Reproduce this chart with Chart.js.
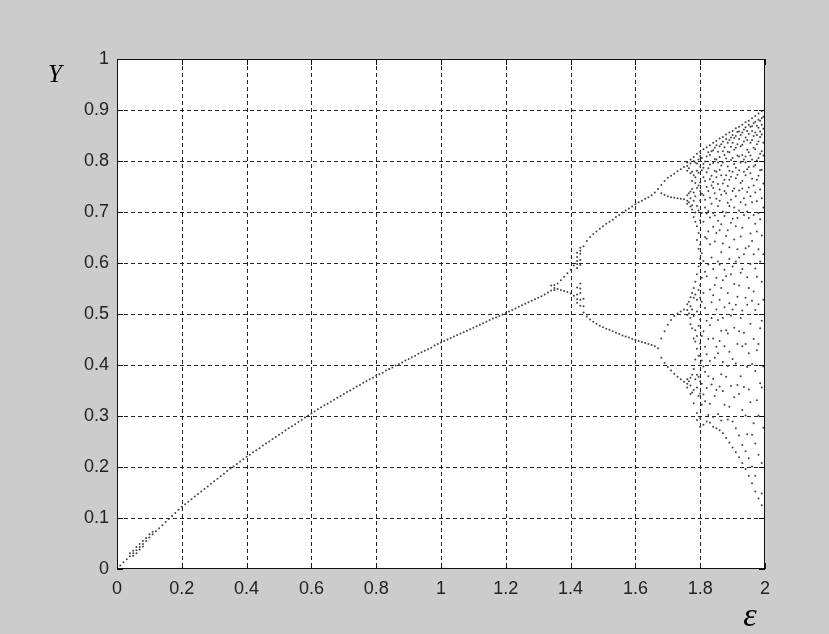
<!DOCTYPE html>
<html>
<head>
<meta charset="utf-8">
<script src="https://cdn.jsdelivr.net/npm/chart.js@4.4.0/dist/chart.umd.min.js"></script>
<style>
  html, body { margin: 0; padding: 0; background: #cccccc; }
</style>
</head>
<body>
<canvas id="chart" width="829" height="634"></canvas>
<script>
// ---- data ----
var xTicks = [0, 0.2, 0.4, 0.6, 0.8, 1, 1.2, 1.4, 1.6, 1.8, 2];
var yTicks = [0, 0.1, 0.2, 0.3, 0.4, 0.5, 0.6, 0.7, 0.8, 0.9, 1];

// single branch
var mainEps = [
  0.00, 0.01, 0.02, 0.03, 0.04, 0.05, 0.06, 0.07, 0.08, 0.09,
  0.10, 0.11, 0.12, 0.13, 0.14, 0.15, 0.16, 0.17, 0.18, 0.19,
  0.20, 0.21, 0.22, 0.23, 0.24, 0.25, 0.26, 0.27, 0.28, 0.29,
  0.30, 0.31, 0.32, 0.33, 0.34, 0.35, 0.36, 0.37, 0.38, 0.39,
  0.40, 0.41, 0.42, 0.43, 0.44, 0.45, 0.46, 0.47, 0.48, 0.49,
  0.50, 0.51, 0.52, 0.53, 0.54, 0.55, 0.56, 0.57, 0.58, 0.59,
  0.60, 0.61, 0.62, 0.63, 0.64, 0.65, 0.66, 0.67, 0.68, 0.69,
  0.70, 0.71, 0.72, 0.73, 0.74, 0.75, 0.76, 0.77, 0.78, 0.79,
  0.80, 0.81, 0.82, 0.83, 0.84, 0.85, 0.86, 0.87, 0.88, 0.89,
  0.90, 0.91, 0.92, 0.93, 0.94, 0.95, 0.96, 0.97, 0.98, 0.99,
  1.00, 1.01, 1.02, 1.03, 1.04, 1.05, 1.06, 1.07, 1.08, 1.09,
  1.10, 1.11, 1.12, 1.13, 1.14, 1.15, 1.16, 1.17, 1.18, 1.19,
  1.20, 1.21, 1.22, 1.23, 1.24, 1.25, 1.26, 1.27, 1.28, 1.29,
  1.30, 1.31, 1.32, 1.33, 1.34, 1.35
];
var mainY = [
  0.000, 0.007, 0.013, 0.019, 0.025, 0.031, 0.037, 0.043, 0.049, 0.055,
  0.062, 0.068, 0.074, 0.080, 0.086, 0.092, 0.098, 0.104, 0.110, 0.116,
  0.122, 0.127, 0.132, 0.137, 0.142, 0.147, 0.152, 0.157, 0.162, 0.167,
  0.172, 0.177, 0.182, 0.187, 0.192, 0.197, 0.201, 0.206, 0.211, 0.215,
  0.220, 0.224, 0.229, 0.233, 0.237, 0.242, 0.246, 0.250, 0.255, 0.259,
  0.263, 0.267, 0.272, 0.276, 0.280, 0.284, 0.288, 0.292, 0.297, 0.301,
  0.305, 0.309, 0.313, 0.317, 0.321, 0.324, 0.328, 0.332, 0.336, 0.339,
  0.343, 0.347, 0.350, 0.354, 0.358, 0.361, 0.365, 0.368, 0.372, 0.375,
  0.379, 0.382, 0.385, 0.389, 0.392, 0.395, 0.399, 0.402, 0.405, 0.409,
  0.412, 0.415, 0.418, 0.422, 0.425, 0.428, 0.431, 0.434, 0.438, 0.441,
  0.444, 0.447, 0.450, 0.453, 0.456, 0.459, 0.462, 0.464, 0.467, 0.470,
  0.473, 0.476, 0.479, 0.482, 0.485, 0.488, 0.491, 0.493, 0.496, 0.499,
  0.502, 0.505, 0.508, 0.511, 0.514, 0.517, 0.520, 0.523, 0.526, 0.529,
  0.532, 0.535, 0.538, 0.542, 0.546, 0.551
];

// transient marks near the origin and around the first split
var fuzzEps = [0.04, 0.05, 0.05, 0.06, 0.06, 0.07, 0.07, 0.08, 0.08, 0.09, 0.10, 0.11];
var fuzzY   = [0.031, 0.036, 0.026, 0.043, 0.031, 0.049, 0.038, 0.055, 0.044, 0.061, 0.068, 0.073];
var barEps = [1.34, 1.35, 1.35, 1.42, 1.42, 1.42, 1.42, 1.43, 1.43, 1.43, 1.43,
              1.42, 1.42, 1.42, 1.43, 1.43, 1.43, 1.43, 1.44, 1.44];
var barY   = [0.556, 0.557, 0.547, 0.590, 0.598, 0.612, 0.620, 0.596, 0.606, 0.624, 0.630,
              0.522, 0.538, 0.552, 0.528, 0.541, 0.550, 0.560, 0.515, 0.530];

// period 2
var p2Eps = [1.36, 1.37, 1.38, 1.39, 1.40, 1.41, 1.42, 1.43, 1.44, 1.45, 1.46, 1.47, 1.48, 1.49, 1.50, 1.51,
             1.52, 1.53, 1.54, 1.55, 1.56, 1.57, 1.58, 1.59, 1.60, 1.61, 1.62, 1.63, 1.64, 1.65, 1.66, 1.67];
var p2Up  = [0.560, 0.566, 0.573, 0.580, 0.587, 0.595, 0.604, 0.618, 0.633, 0.643, 0.651, 0.657, 0.662, 0.667, 0.672, 0.677,
             0.681, 0.685, 0.690, 0.694, 0.699, 0.703, 0.707, 0.711, 0.715, 0.719, 0.722, 0.726, 0.729, 0.733, 0.738, 0.745];
var p2Low = [0.549, 0.547, 0.545, 0.543, 0.540, 0.536, 0.529, 0.516, 0.503, 0.495, 0.489, 0.485, 0.481, 0.477, 0.474, 0.471,
             0.469, 0.466, 0.463, 0.461, 0.458, 0.456, 0.454, 0.451, 0.449, 0.447, 0.445, 0.443, 0.441, 0.439, 0.437, 0.433];

// period 4
var p4Eps = [1.68, 1.69, 1.70, 1.71, 1.72, 1.73, 1.74, 1.75];
var p4A = [0.753, 0.761, 0.767, 0.771, 0.775, 0.780, 0.784, 0.788];
var p4B = [0.737, 0.734, 0.731, 0.729, 0.728, 0.727, 0.726, 0.725];
var p4C = [0.452, 0.466, 0.479, 0.488, 0.496, 0.501, 0.505, 0.509];
var p4D = [0.414, 0.404, 0.396, 0.389, 0.383, 0.377, 0.372, 0.367];

// chaotic band, one list of Y per epsilon column
var chaosEps = [
  1.760, 1.765, 1.770, 1.775, 1.780, 1.785, 1.790, 1.795, 1.800, 1.805,
  1.810, 1.815, 1.820, 1.825, 1.830, 1.835, 1.840, 1.845, 1.850, 1.855,
  1.860, 1.865, 1.870, 1.875, 1.880, 1.885, 1.890, 1.895, 1.900, 1.905,
  1.910, 1.915, 1.920, 1.925, 1.930, 1.935, 1.940, 1.945, 1.950, 1.955,
  1.960, 1.965, 1.970, 1.975, 1.980, 1.985, 1.990, 1.995, 2.000
];
var chaosY = [
  [0.797, 0.790, 0.781, 0.733, 0.722, 0.716, 0.519, 0.508, 0.498, 0.372, 0.363, 0.356],
  [0.786, 0.737, 0.719, 0.524, 0.501, 0.368],
  [0.803, 0.795, 0.776, 0.740, 0.727, 0.711, 0.533, 0.515, 0.492, 0.480, 0.375, 0.360, 0.343],
  [0.779, 0.761, 0.745, 0.713, 0.705, 0.541, 0.509, 0.472, 0.381, 0.346],
  [0.808, 0.800, 0.772, 0.738, 0.722, 0.690, 0.551, 0.532, 0.496, 0.452, 0.392, 0.351, 0.325],
  [0.797, 0.768, 0.757, 0.731, 0.699, 0.681, 0.563, 0.538, 0.468, 0.446, 0.411, 0.372],
  [0.814, 0.795, 0.781, 0.747, 0.712, 0.672, 0.645, 0.578, 0.528, 0.505, 0.457, 0.432, 0.381, 0.356, 0.306, 0.292],
  [0.803, 0.777, 0.752, 0.703, 0.659, 0.628, 0.593, 0.547, 0.477, 0.418, 0.377, 0.339],
  [0.818, 0.810, 0.789, 0.758, 0.741, 0.723, 0.684, 0.636, 0.608, 0.556, 0.532, 0.489, 0.442, 0.418, 0.368, 0.344, 0.296, 0.279],
  [0.806, 0.782, 0.736, 0.698, 0.619, 0.571, 0.524, 0.457, 0.409, 0.363, 0.322],
  [0.823, 0.794, 0.787, 0.768, 0.733, 0.681, 0.604, 0.541, 0.466, 0.397, 0.342, 0.283],
  [0.799, 0.761, 0.724, 0.709, 0.651, 0.583, 0.512, 0.436, 0.387, 0.329],
  [0.827, 0.809, 0.778, 0.749, 0.697, 0.648, 0.574, 0.487, 0.421, 0.355, 0.289],
  [0.817, 0.786, 0.741, 0.702, 0.662, 0.597, 0.451, 0.378, 0.302],
  [0.831, 0.812, 0.793, 0.764, 0.728, 0.689, 0.637, 0.548, 0.478, 0.408, 0.324, 0.287],
  [0.819, 0.771, 0.752, 0.716, 0.611, 0.523, 0.492, 0.362],
  [0.836, 0.821, 0.796, 0.759, 0.747, 0.698, 0.671, 0.588, 0.537, 0.452, 0.373, 0.298, 0.279],
  [0.826, 0.804, 0.781, 0.737, 0.693, 0.642, 0.557, 0.414, 0.339],
  [0.839, 0.831, 0.803, 0.779, 0.768, 0.726, 0.659, 0.571, 0.509, 0.436, 0.351, 0.276],
  [0.818, 0.797, 0.755, 0.712, 0.683, 0.603, 0.488, 0.423, 0.304],
  [0.844, 0.829, 0.808, 0.783, 0.744, 0.722, 0.664, 0.597, 0.528, 0.447, 0.358, 0.272],
  [0.833, 0.791, 0.772, 0.734, 0.676, 0.621, 0.551, 0.467, 0.382, 0.291],
  [0.847, 0.838, 0.819, 0.797, 0.756, 0.701, 0.638, 0.566, 0.492, 0.406, 0.349, 0.266],
  [0.827, 0.812, 0.763, 0.741, 0.692, 0.587, 0.513, 0.437, 0.322],
  [0.852, 0.843, 0.805, 0.772, 0.737, 0.699, 0.653, 0.574, 0.468, 0.377, 0.257],
  [0.836, 0.818, 0.789, 0.751, 0.718, 0.664, 0.541, 0.462, 0.398, 0.293],
  [0.856, 0.841, 0.817, 0.781, 0.763, 0.712, 0.631, 0.608, 0.521, 0.426, 0.318, 0.248],
  [0.846, 0.828, 0.802, 0.769, 0.724, 0.679, 0.578, 0.497, 0.359],
  [0.859, 0.851, 0.836, 0.806, 0.779, 0.741, 0.687, 0.593, 0.509, 0.412, 0.289, 0.238],
  [0.845, 0.822, 0.794, 0.746, 0.709, 0.646, 0.559, 0.473, 0.337],
  [0.864, 0.849, 0.826, 0.787, 0.766, 0.731, 0.672, 0.603, 0.518, 0.403, 0.276, 0.229],
  [0.857, 0.833, 0.811, 0.773, 0.688, 0.627, 0.534, 0.441, 0.361],
  [0.867, 0.858, 0.843, 0.809, 0.782, 0.742, 0.703, 0.611, 0.556, 0.466, 0.343, 0.262, 0.219],
  [0.851, 0.829, 0.797, 0.757, 0.719, 0.652, 0.581, 0.492, 0.378],
  [0.871, 0.856, 0.832, 0.812, 0.761, 0.746, 0.669, 0.588, 0.507, 0.437, 0.312, 0.243, 0.208],
  [0.862, 0.838, 0.803, 0.779, 0.727, 0.694, 0.617, 0.463, 0.357],
  [0.876, 0.866, 0.846, 0.809, 0.797, 0.772, 0.714, 0.629, 0.532, 0.441, 0.301, 0.231, 0.196],
  [0.859, 0.841, 0.822, 0.784, 0.739, 0.701, 0.572, 0.518, 0.396, 0.264],
  [0.879, 0.871, 0.853, 0.817, 0.788, 0.748, 0.688, 0.633, 0.551, 0.423, 0.352, 0.217, 0.183],
  [0.867, 0.836, 0.811, 0.776, 0.731, 0.658, 0.598, 0.481, 0.327],
  [0.884, 0.868, 0.859, 0.841, 0.803, 0.765, 0.719, 0.643, 0.526, 0.402, 0.263, 0.201, 0.168],
  [0.874, 0.849, 0.826, 0.789, 0.752, 0.694, 0.617, 0.544, 0.451, 0.286],
  [0.888, 0.877, 0.856, 0.823, 0.792, 0.738, 0.677, 0.589, 0.508, 0.388, 0.246, 0.183, 0.152],
  [0.869, 0.851, 0.833, 0.801, 0.763, 0.721, 0.662, 0.573, 0.429, 0.331],
  [0.893, 0.881, 0.865, 0.838, 0.806, 0.771, 0.698, 0.627, 0.519, 0.441, 0.301, 0.224, 0.138],
  [0.879, 0.858, 0.847, 0.814, 0.782, 0.744, 0.686, 0.603, 0.472, 0.364],
  [0.898, 0.884, 0.871, 0.852, 0.819, 0.783, 0.727, 0.654, 0.563, 0.487, 0.356, 0.208, 0.148, 0.125],
  [0.887, 0.863, 0.836, 0.811, 0.756, 0.709, 0.617, 0.528, 0.397, 0.277],
  [0.903, 0.889, 0.867, 0.854, 0.831, 0.797, 0.735, 0.662, 0.596, 0.471, 0.332, 0.184, 0.118]
];

// ---- build points ----
var pts = [];
function addPts(xs, ys){
  for (var i = 0; i < xs.length; i++) pts.push({x: xs[i], y: ys[i]});
}
addPts(mainEps, mainY);
addPts(fuzzEps, fuzzY);
addPts(barEps, barY);
addPts(p2Eps, p2Up);
addPts(p2Eps, p2Low);
addPts(p4Eps, p4A);
addPts(p4Eps, p4B);
addPts(p4Eps, p4C);
addPts(p4Eps, p4D);
for (var c = 0; c < chaosEps.length; c++){
  for (var k = 0; k < chaosY[c].length; k++) pts.push({x: chaosEps[c], y: chaosY[c][k]});
}

// MATLAB style frame: grey figure, white axes, dashed grid, inner ticks
var figure = {
  id: 'figure',
  beforeDraw: function(chart){
    var c = chart.ctx, a = chart.chartArea;
    c.save();
    c.fillStyle = '#cccccc';
    c.fillRect(0, 0, chart.width, chart.height);
    c.fillStyle = '#ffffff';
    c.fillRect(a.left, a.top, a.right - a.left, a.bottom - a.top);
    c.restore();
  },
  beforeDatasetsDraw: function(chart){
    var c = chart.ctx, a = chart.chartArea;
    var xs = chart.scales.x, ys = chart.scales.y;
    c.save();
    c.strokeStyle = '#222';
    c.lineWidth = 1;
    c.setLineDash([4, 3]);
    xTicks.forEach(function(v){
      if (v == 0 || v == 2) return;
      var px = Math.round(xs.getPixelForValue(v)) + 0.5;
      c.beginPath(); c.moveTo(px, a.top); c.lineTo(px, a.bottom); c.stroke();
    });
    yTicks.forEach(function(v){
      if (v == 0 || v == 1) return;
      var py = Math.round(ys.getPixelForValue(v)) + 0.5;
      c.beginPath(); c.moveTo(a.left, py); c.lineTo(a.right, py); c.stroke();
    });
    c.restore();
  },
  afterDatasetsDraw: function(chart){
    var c = chart.ctx, a = chart.chartArea;
    var xs = chart.scales.x, ys = chart.scales.y;
    var tl = 6;
    c.save();
    c.strokeStyle = '#111';
    c.lineWidth = 1;
    c.setLineDash([]);
    c.strokeRect(Math.round(a.left) + 0.5, Math.round(a.top) + 0.5,
                 Math.round(a.right - a.left) - 1, Math.round(a.bottom - a.top) - 1);
    c.beginPath();
    xTicks.forEach(function(v){
      var px = Math.round(xs.getPixelForValue(v)) + 0.5;
      c.moveTo(px, a.bottom); c.lineTo(px, a.bottom - tl);
      c.moveTo(px, a.top); c.lineTo(px, a.top + tl);
    });
    yTicks.forEach(function(v){
      var py = Math.round(ys.getPixelForValue(v)) + 0.5;
      c.moveTo(a.left, py); c.lineTo(a.left + tl, py);
      c.moveTo(a.right, py); c.lineTo(a.right - tl, py);
    });
    c.stroke();
    // axis names
    c.fillStyle = '#000';
    c.textAlign = 'center';
    c.textBaseline = 'middle';
    c.font = 'italic 25px "Liberation Serif", "Times New Roman", serif';
    c.fillText('Y', 55, 75);
    c.font = 'italic 34px "Liberation Serif", "Times New Roman", serif';
    c.fillText('\u03B5', 750, 617);
    c.restore();
  }
};

var tickFont = { family: '"Liberation Sans", Arial, sans-serif', size: 18 };
function fmt(v){ return String(Math.round(v * 10) / 10); }

var ctx = document.getElementById('chart').getContext('2d');
var chart = new Chart(ctx, {
  type: 'scatter',
  data: {
    datasets: [{
      label: 'Y',
      data: pts,
      pointRadius: 1,
      pointHoverRadius: 1,
      pointBorderWidth: 0,
      pointBackgroundColor: '#444444',
      showLine: false
    }]
  },
  plugins: [figure],
  options: {
    responsive: false,
    animation: false,
    events: [],
    layout: {
      padding: { left: 0, right: 64, top: 59, bottom: 0 }
    },
    plugins: {
      legend: { display: false },
      tooltip: { enabled: false }
    },
    scales: {
      x: {
        type: 'linear',
        min: 0,
        max: 2,
        grid: { display: false, drawTicks: false },
        border: { display: false },
        afterBuildTicks: function(s){ s.ticks = xTicks.map(function(v){ return {value: v}; }); },
        afterFit: function(s){ s.height = 65; },
        ticks: { color: '#222', font: tickFont, padding: 9, maxRotation: 0, autoSkip: false, callback: fmt }
      },
      y: {
        type: 'linear',
        min: 0,
        max: 1,
        grid: { display: false, drawTicks: false },
        border: { display: false },
        afterBuildTicks: function(s){ s.ticks = yTicks.map(function(v){ return {value: v}; }); },
        afterFit: function(s){ s.width = 117; },
        ticks: { color: '#222', font: tickFont, padding: 8, autoSkip: false, callback: fmt }
      }
    }
  }
});
</script>
</body>
</html>
